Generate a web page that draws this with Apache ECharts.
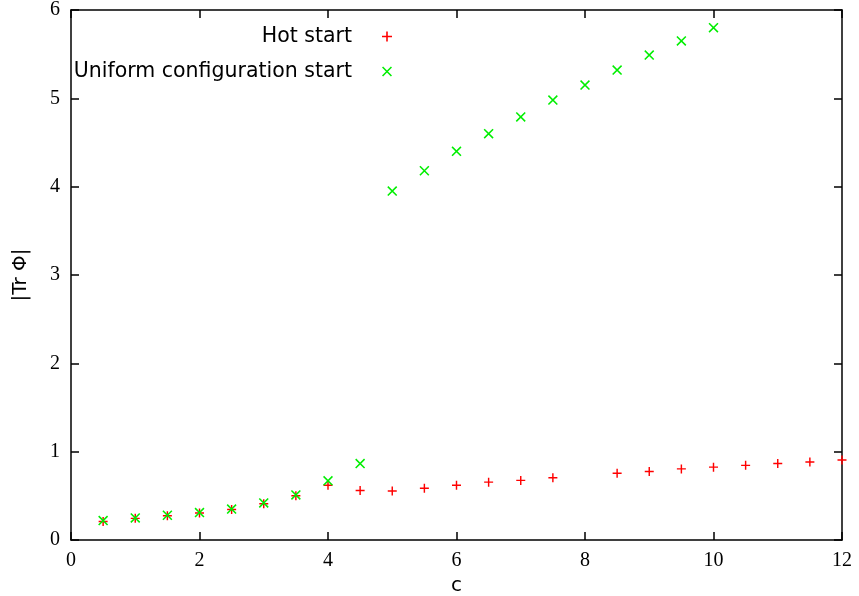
<!DOCTYPE html>
<html>
<head>
<meta charset="utf-8">
<script src="https://cdn.jsdelivr.net/npm/echarts@6/dist/echarts.min.js"></script>
<style>
  html, body { margin: 0; padding: 0; background: #fff; }
  #chart { width: 859px; height: 596px; }
</style>
</head>
<body>
<div id="chart"></div>
<script>
// 数据
var hotX = [0.5, 1, 1.5, 2, 2.5, 3, 3.5, 4, 4.5, 5, 5.5, 6, 6.5, 7, 7.5, 8.5, 9, 9.5, 10, 10.5, 11, 11.5, 12];
var hotY = [0.21, 0.245, 0.275, 0.305, 0.345, 0.41, 0.5, 0.62, 0.56, 0.555, 0.585, 0.62, 0.655, 0.675, 0.705, 0.755, 0.775, 0.805, 0.825, 0.845, 0.867, 0.883, 0.905];
var uniX = [0.5, 1, 1.5, 2, 2.5, 3, 3.5, 4, 4.5, 5, 5.5, 6, 6.5, 7, 7.5, 8, 8.5, 9, 9.5, 10];
var uniY = [0.22, 0.25, 0.28, 0.31, 0.35, 0.42, 0.51, 0.67, 0.865, 3.95, 4.18, 4.40, 4.60, 4.79, 4.98, 5.15, 5.32, 5.49, 5.65, 5.80];

function pairs(xs, ys) {
    var out = [];
    for (var i = 0; i < xs.length; i++) out.push([xs[i], ys[i]]);
    return out;
}

var plusPath = 'path://M4.2,0h1.6v4.2h4.2v1.6h-4.2v4.2h-1.6v-4.2h-4.2v-1.6h4.2z';
var crossPath = 'path://M0,1.1L1.1,0L10,8.9L8.9,10Z M8.9,0L10,1.1L1.1,10L0,8.9Z';

var tickFont = { fontFamily: 'Liberation Serif', fontSize: 20, color: '#000' };
var lineStyle = { color: '#000', width: 1.5 };
var legendText = { fontFamily: 'DejaVu Sans', fontSize: 20.5, color: '#000', padding: [0, 25, 0, 0] };

function mirrorAxis(max, pos) {
    return {
        type: 'value', position: pos, min: 0, max: max, interval: max == 12 ? 2 : 1,
        axisLine: { show: true, onZero: false, lineStyle: lineStyle },
        axisTick: { show: true, inside: true, length: 8, lineStyle: lineStyle },
        axisLabel: { show: false },
        splitLine: { show: false }
    };
}

var chart = echarts.init(document.getElementById('chart'));
var option = {
    animation: false,
    backgroundColor: '#fff',
    grid: { left: 71, right: 17, top: 10, bottom: 56, containLabel: false, outerBoundsMode: 'none' },
    legend: [
        { data: ['Hot start'], right: 462, top: 21, align: 'right', itemWidth: 10, itemHeight: 10, textStyle: legendText },
        { data: ['Uniform configuration start'], right: 462, top: 56, align: 'right', itemWidth: 10, itemHeight: 10, textStyle: legendText }
    ],
    xAxis: [
        {
            type: 'value', position: 'bottom', min: 0, max: 12, interval: 2,
            name: 'c', nameLocation: 'middle', nameGap: 27,
            nameTextStyle: { fontFamily: 'DejaVu Sans', fontSize: 20, color: '#000' },
            axisLine: { show: true, onZero: false, lineStyle: lineStyle },
            axisTick: { show: true, inside: true, length: 8, lineStyle: lineStyle },
            axisLabel: Object.assign({ margin: 11 }, tickFont),
            splitLine: { show: false }
        },
        mirrorAxis(12, 'top')
    ],
    yAxis: [
        {
            type: 'value', position: 'left', min: 0, max: 6, interval: 1,
            name: '|Tr Φ|', nameLocation: 'middle', nameGap: 40,
            nameTextStyle: { fontFamily: 'DejaVu Sans', fontSize: 20, color: '#000' },
            axisLine: { show: true, onZero: false, lineStyle: lineStyle },
            axisTick: { show: true, inside: true, length: 8, lineStyle: lineStyle },
            axisLabel: Object.assign({ margin: 11 }, tickFont),
            splitLine: { show: false }
        },
        mirrorAxis(6, 'right')
    ],
    series: [
        {
            name: 'Hot start', type: 'scatter', xAxisIndex: 0, yAxisIndex: 0,
            symbol: plusPath, symbolSize: 9,
            itemStyle: { color: '#ff0000', opacity: 1 },
            data: pairs(hotX, hotY)
        },
        {
            name: 'Uniform configuration start', type: 'scatter', xAxisIndex: 0, yAxisIndex: 0,
            symbol: crossPath, symbolSize: 10,
            itemStyle: { color: '#00ee00', opacity: 1 },
            data: pairs(uniX, uniY)
        }
    ]
};
chart.setOption(option);
</script>
</body>
</html>
